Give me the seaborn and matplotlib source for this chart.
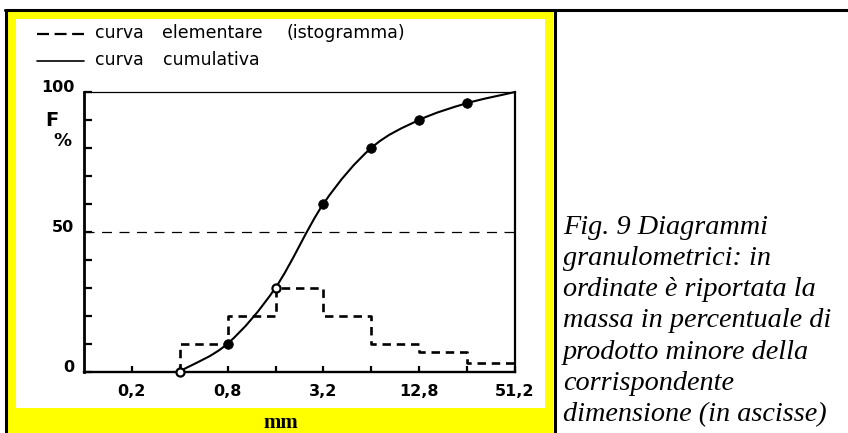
import numpy as np
import pandas as pd
import matplotlib
matplotlib.use("Agg")
import matplotlib.pyplot as plt
import seaborn as sns
from matplotlib.path import Path
from matplotlib.patches import PathPatch, Rectangle
from matplotlib.lines import Line2D
from matplotlib.ticker import NullLocator

# ---------------- data ----------------
size_mm = [0.4, 0.8, 1.6, 3.2, 6.4, 12.8, 25.6, 51.2]
cumulative_pct = [0, 10, 30, 60, 80, 90, 96, 100]
point_style = ["open", "filled", "open", "filled", "filled", "filled", "filled", "none"]
hist_pct = [10, 20, 30, 20, 10, 7, 3]          # class between consecutive sizes
x_tick_sizes = [0.2, 0.4, 0.8, 1.6, 3.2, 6.4, 12.8, 25.6, 51.2]
x_tick_labels = ["0,2", "", "0,8", "", "3,2", "", "12,8", "", "51,2"]
y_ticks = [0, 10, 20, 30, 40, 50, 60, 70, 80, 90, 100]
y_tick_labels = ["0", "", "", "", "", "50", "", "", "", "", "100"]
legend_labels = ["curva elementare (istogramma)", "curva cumulativa"]
caption_lines = ["Fig. 9 Diagrammi", "granulometrici: in", "ordinate è riportata la",
                 "massa in percentuale di", "prodotto minore della", "corrispondente",
                 "dimensione (in ascisse)"]
x_unit = "mm"
y_unit = ["F", "%"]

W, H = 848, 433
sns.set_style("ticks")
plt.rcParams["font.family"] = ["DejaVu Sans"]
plt.rcParams["text.color"] = "black"
plt.rcParams["xtick.color"] = "black"
plt.rcParams["ytick.color"] = "black"

fig = plt.figure(figsize=(W / 100, H / 100), dpi=100)
fig.patch.set_facecolor("white")


def fx(x):
    return x / W


def fy(y):
    return 1 - y / H


# background panels
fig.patches.append(Rectangle((fx(6), fy(433)), fx(553) - fx(6), fy(10) - fy(433),
                             transform=fig.transFigure, facecolor="#FFFF00", edgecolor="none", zorder=0))
fig.patches.append(Rectangle((fx(16), fy(408)), fx(545) - fx(16), fy(19) - fy(408),
                             transform=fig.transFigure, facecolor="white", edgecolor="none", zorder=0.5))
for (x0, y0, x1, y1) in [(5, 10, 848, 10), (6, 10, 6, 433), (554.5, 10, 554.5, 433)]:
    fig.lines.append(Line2D([fx(x0), fx(x1)], [fy(y0), fy(y1)], transform=fig.transFigure,
                            color="black", lw=2.2, zorder=1))

ax = fig.add_axes([fx(84), fy(371.5), fx(515) - fx(84), fy(92) - fy(371.5)])
ax.set_zorder(3)
ax.set_facecolor("none")
ax.set_xscale("log", base=2)
ax.set_xlim(0.1, 51.2)
ax.set_ylim(0, 100)

# 50% reference line
ax.axhline(50, color="black", lw=0.9, ls=(0, (8, 6)), zorder=1)

# histogram (dashed step line)
step_x = [size_mm[0]] + size_mm
step_y = [0] + hist_pct + [hist_pct[-1]]
hist_df = pd.DataFrame({"size": step_x, "pct": step_y})
sns.lineplot(data=hist_df, x="size", y="pct", ax=ax, sort=False, estimator=None,
             drawstyle="steps-post", color="black", lw=1.9, linestyle=(0, (3.2, 2.2)), zorder=2)

# cumulative curve (smooth Catmull-Rom bezier through the points)
u = np.log2(size_mm)
v = np.array(cumulative_pct, dtype=float)
P = np.column_stack([u, v])
n = len(P)
M = np.zeros_like(P)
M[0] = P[1] - P[0]
M[-1] = P[-1] - P[-2]
for i in range(1, n - 1):
    M[i] = (P[i + 1] - P[i - 1]) / 2
verts = [P[0]]
codes = [Path.MOVETO]
for i in range(n - 1):
    verts += [P[i] + M[i] / 3, P[i + 1] - M[i + 1] / 3, P[i + 1]]
    codes += [Path.CURVE4] * 3
verts = np.array(verts)
verts[:, 0] = 2 ** verts[:, 0]
ax.add_patch(PathPatch(Path(verts, codes), fill=False, edgecolor="black", lw=1.5,
                       transform=ax.transData, clip_on=False, zorder=3))

pts = pd.DataFrame({"size": size_mm, "pct": cumulative_pct, "style": point_style})
filled = pts[pts["style"] == "filled"]
opened = pts[pts["style"] == "open"]
sns.scatterplot(data=filled, x="size", y="pct", ax=ax, s=48, color="black",
                edgecolor="black", linewidth=0.5, zorder=4, clip_on=False)
sns.scatterplot(data=opened, x="size", y="pct", ax=ax, s=34, color="white",
                edgecolor="black", linewidth=1.6, zorder=4, clip_on=False)

# axes styling
ax.set_xticks(x_tick_sizes)
ax.set_xticklabels(x_tick_labels)
ax.xaxis.set_minor_locator(NullLocator())
ax.set_yticks(y_ticks)
ax.set_yticklabels(y_tick_labels)
ax.set_xlabel("")
ax.set_ylabel("")
ax.tick_params(axis="x", direction="in", length=4, width=1.6, pad=9, labelsize=11.5,
               colors="black")
ax.tick_params(axis="y", direction="in", length=6, width=1.6, pad=7, labelsize=11.5,
               colors="black")
for t in ax.get_xticklabels() + ax.get_yticklabels():
    t.set_fontweight("bold")
for t in ax.get_yticklabels():
    t.set_verticalalignment("baseline")
for side, lw in [("left", 2.0), ("bottom", 1.7), ("right", 1.6), ("top", 0.9)]:
    ax.spines[side].set_visible(True)
    ax.spines[side].set_linewidth(lw)
    ax.spines[side].set_color("black")

# y unit label
fig.text(fx(52), fy(120), y_unit[0], ha="center", va="center", fontsize=14, fontweight="bold")
fig.text(fx(62), fy(141), y_unit[1], ha="center", va="center", fontsize=13, fontweight="bold")

# legend (drawn in figure space)
fig.lines.append(Line2D([fx(37), fx(84)], [fy(33.5), fy(33.5)], transform=fig.transFigure,
                        color="black", lw=1.6, ls=(0, (5.4, 2.5))))
fig.lines.append(Line2D([fx(37), fx(84)], [fy(61), fy(61)], transform=fig.transFigure,
                        color="black", lw=1.2))
word_x = [[95, 162, 286], [95, 163]]
for row, (label, xs, base) in enumerate(zip(legend_labels, word_x, [37.5, 65])):
    for word, x in zip(label.split(" "), xs):
        fig.text(fx(x), fy(base), word, ha="left", va="baseline", fontsize=12.5)

# x unit
fig.text(fx(281), fy(423), x_unit, ha="center", va="center", fontsize=15,
         fontweight="bold", family="Liberation Serif")

# caption
for k, line in enumerate(caption_lines):
    fig.text(fx(563), fy(233.5 + k * 31.3), line, ha="left", va="baseline", fontsize=20.3,
             family="Liberation Serif", style="italic")

fig.savefig("out.png", dpi=100)
